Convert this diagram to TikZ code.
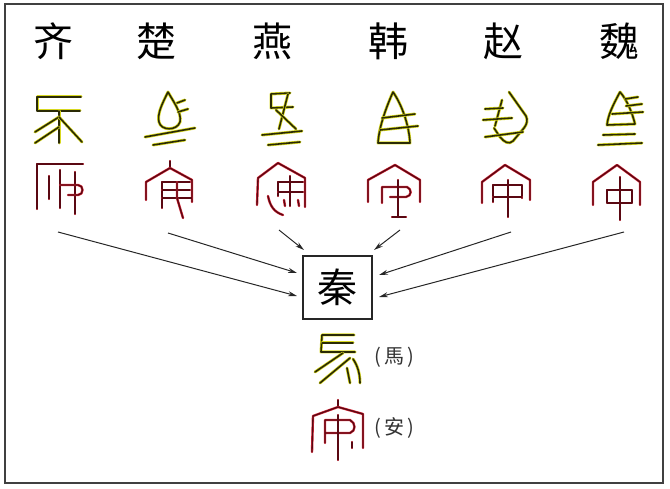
\documentclass[tikz,border=0pt]{standalone}
\usepackage{fontspec}
\newfontfamily\cjk{Noto Sans CJK SC}
\newfontfamily\cjktc{Noto Sans CJK TC}
\usetikzlibrary{arrows.meta}
\definecolor{ydark}{HTML}{2A2A05}
\definecolor{yhalo}{HTML}{D8D820}
\definecolor{rdark}{HTML}{5A0812}
\definecolor{rhalo}{HTML}{D8283A}
\tikzset{
  yg/.style={preaction={draw=yhalo,line width=3pt,line cap=round,line join=round},
             draw=ydark,line width=1.6pt,line cap=round,line join=round},
  rg/.style={preaction={draw=rhalo,line width=2.4pt,line cap=round,line join=round},
             draw=rdark,line width=1.3pt,line cap=round,line join=round},
  state/.style={font={\cjk\fontsize{40}{40}\selectfont},inner sep=0pt},
  qinbox/.style={draw=black!85,line width=1.3pt,minimum width=69pt,minimum height=63pt,
                 inner sep=0pt,font={\cjk\fontsize{40}{40}\selectfont}},
  gloss/.style={font={\cjktc\fontsize{20}{20}\selectfont},text=black!80,inner sep=0pt},
  conn/.style={draw=black!85,line width=1pt,-{Stealth[length=9pt,width=5pt]}}
}
\begin{document}
\begin{tikzpicture}[x=1pt,y=-1pt]
\useasboundingbox (0,0) rectangle (670,489);
\draw[line width=2pt,black!75] (5,4) rectangle (663,483);

% state names
\node[state] (qi)   at (54,41)  {齐};
\node[state] (chu)  at (156,41) {楚};
\node[state] (yan)  at (272,41) {燕};
\node[state] (han)  at (388,41) {韩};
\node[state] (zhao) at (503,41) {赵};
\node[state] (wei)  at (619,41) {魏};

% central box
\node[qinbox] (qin) at (337.5,287.5) {秦};

% connectors
\coordinate (s1) at (58,232);
\coordinate (s2) at (168,233);
\coordinate (s3) at (279,230);
\coordinate (s4) at (400,230);
\coordinate (s5) at (511,232);
\coordinate (s6) at (624,232);
\coordinate (e1) at (297,296);
\coordinate (e2) at (297,273);
\coordinate (e3) at (304,250);
\coordinate (e4) at (374,250);
\coordinate (e5) at (379,275);
\coordinate (e6) at (379,297);
\draw[conn] (s1) -- (e1);
\draw[conn] (s2) -- (e2);
\draw[conn] (s3) -- (e3);
\draw[conn] (s4) -- (e4);
\draw[conn] (s5) -- (e5);
\draw[conn] (s6) -- (e6);

% ---- yellow seal glyphs (马) ----
% qi
\draw[yg] (81,97) -- (37,97) -- (37,111) -- (80,111);
\draw[yg] (59,111) -- (59,143);
\draw[yg] (59,117) -- (35,132);
\draw[yg] (59,127) -- (35,143);
\draw[yg] (59,117) -- (82,142);
% chu
\draw[yg] (168,92) .. controls (162,104) and (157,114) .. (159,122)
      .. controls (161,131) and (177,131) .. (180,122)
      .. controls (182,113) and (173,101) .. (168,92);
\draw[yg] (177,103) -- (185,100);
\draw[yg] (178,112) -- (188,109);
\draw[yg] (145,137) -- (195,128);
\draw[yg] (153,145) -- (185,140);
% yan
\draw[yg] (290,93) -- (271,94) -- (271,108) -- (293,107);
\draw[yg] (288,94) -- (279,129);
\draw[yg] (276,110) -- (296,129);
\draw[yg] (262,135) -- (302,131);
\draw[yg] (268,145) -- (300,142);
% han
\draw[yg] (393,92) .. controls (385,110) and (379,128) .. (378,143) -- (410,143)
      .. controls (409,125) and (402,105) .. (393,92);
\draw[yg] (382,118) -- (415,114);
\draw[yg] (380,130) -- (418,126);
% zhao
\draw[yg] (509,92) -- (526,116) .. controls (528,120) and (527,124) .. (524,128)
      -- (513,141) .. controls (509,145) and (504,142) .. (500,137) -- (494,128);
\draw[yg] (502,100) -- (495,126);
\draw[yg] (485,109) -- (503,108);
\draw[yg] (483,120) -- (512,118);
\draw[yg] (485,137) -- (523,132);
% wei
\draw[yg] (620,92) .. controls (613,105) and (608,115) .. (607,125) -- (635,124)
      .. controls (632,112) and (627,100) .. (620,92);
\draw[yg] (625,99) -- (638,97);
\draw[yg] (626,106) -- (642,104);
\draw[yg] (612,114) -- (643,112);
\draw[yg] (603,135) -- (635,134);
\draw[yg] (598,145) -- (642,143);

% ---- red seal glyphs (安) ----
% qi
\draw[rg] (83,164) -- (37,164) -- (37,209);
\draw[rg] (49,176) -- (49,199);
\draw[rg] (60,170) -- (60,208);
\draw[rg] (75,172) -- (75,214);
\draw[rg] (60,185) -- (78,185) .. controls (84,185) and (84,195) .. (78,195) -- (68,195);
% chu
\draw[rg] (170,161) -- (170,167);
\draw[rg] (146,200) -- (146,182) -- (170,168) -- (192,180) -- (192,202);
\draw[rg] (162,208) -- (162,182) -- (190,182);
\draw[rg] (162,190) -- (190,190);
\draw[rg] (162,198) -- (192,198);
\draw[rg] (177,182) -- (177,198) -- (183,218);
% yan
\draw[rg] (257,205) -- (258,178) -- (278,163) -- (305,178) -- (305,207);
\draw[rg] (278,196) -- (278,182) -- (303,182);
\draw[rg] (278,192) -- (303,192);
\draw[rg] (290,176) -- (290,206);
\draw[rg] (268,196) .. controls (270,206) and (274,212) .. (283,215);
\draw[rg] (284,200) -- (285,206);
\draw[rg] (298,200) -- (299,206);
% han
\draw[rg] (368,202) -- (368,180) -- (395,165) -- (420,180) -- (420,202);
\draw[rg] (382,203) -- (382,187) -- (407,187) .. controls (412,189) and (412,196) .. (406,197) -- (390,197);
\draw[rg] (398,180) -- (398,217);
\draw[rg] (392,217) -- (406,217);
% zhao
\draw[rg] (482,203) -- (482,182) -- (505,165) -- (530,180) -- (530,200);
\draw[rg] (493,202) -- (493,185) -- (522,185) -- (522,198);
\draw[rg] (493,197) -- (522,197);
\draw[rg] (508,180) -- (508,217);
% wei
\draw[rg] (593,205) -- (593,182) -- (617,165) -- (640,182) -- (640,205);
\draw[rg] (607,190) rectangle (632,203);
\draw[rg] (620,177) -- (620,220);

% ---- Qin glyphs ----
\draw[yg] (354,335) -- (322,335) -- (321,352) -- (355,352);
\draw[yg] (322,343) -- (353,343);
\draw[yg] (343,353) -- (315,372);
\draw[yg] (350,358) -- (320,383);
\draw[yg] (353,359) .. controls (358,366) and (360,375) .. (360,383);
\draw[yg] (347,368) -- (350,383);

\draw[rg] (338,400) -- (338,407);
\draw[rg] (312,452) -- (313,416) -- (338,407) -- (363,414) -- (363,448);
\draw[rg] (325,443) -- (325,420) -- (350,420) .. controls (356,423) and (356,431) .. (350,433) -- (325,433);
\draw[rg] (338,415) -- (338,460);
\draw[rg] (352,442) -- (352,448);

\node[gloss] (ma) at (394,357) {(\hspace{3pt}馬\hspace{3pt})};
\node[gloss] (an) at (394,428) {(\hspace{3pt}安\hspace{3pt})};
\end{tikzpicture}
\end{document}
